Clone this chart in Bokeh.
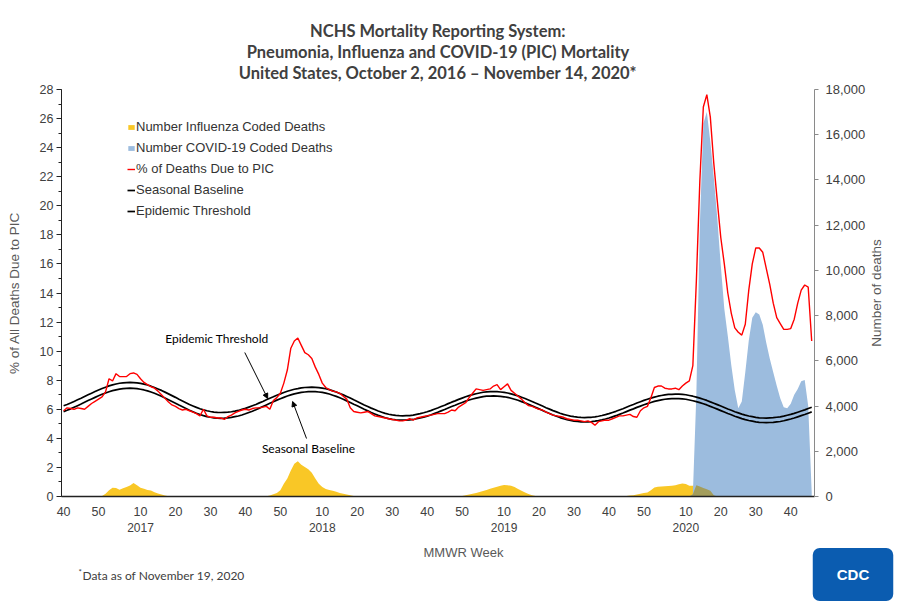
import numpy as np
from bokeh.plotting import figure
from bokeh.layouts import column, row
from bokeh.models import (Range1d, LinearAxis, FixedTicker, SingleIntervalTicker,
                          NumeralTickFormatter, Label, Arrow, NormalHead, Legend, LegendItem)
from bokeh.embed import file_html
from bokeh.resources import INLINE

# ---------------- data (weekly, MMWR week 40/2016 .. week 46/2020) ----------------
year_offset = {2016: -40, 2017: 12, 2018: 64, 2019: 116, 2020: 168}   # index = offset + week
n_weeks = 215

pic_pct = [
    5.9, 6.1, 6.05, 6.0, 6.1, 6.05, 6.0, 6.2, 6.4, 6.55,
    6.7, 6.85, 7.2, 8.1, 7.95, 8.45, 8.25, 8.25, 8.25, 8.45,
    8.5, 8.4, 8.1, 7.85, 7.7, 7.55, 7.45, 7.25, 7.0, 6.75,
    6.5, 6.3, 6.2, 6.05, 5.95, 6.0, 5.9, 5.8, 5.7, 5.55,
    6.0, 5.55, 5.45, 5.45, 5.4, 5.4, 5.3, 5.5, 5.6, 5.75,
    5.85, 5.95, 6.0, 5.95, 6.05, 6.1, 6.1, 6.15, 6.2, 6.0,
    6.6, 6.8, 7.1, 7.8, 8.7, 10.2, 10.7, 10.9, 10.4, 9.9,
    9.75, 9.5, 8.9, 8.4, 7.8, 7.5, 7.35, 7.25, 7.2, 7.1,
    6.9, 6.7, 6.1, 5.85, 5.8, 5.75, 5.8, 5.85, 5.7, 5.55,
    5.5, 5.45, 5.4, 5.35, 5.3, 5.25, 5.2, 5.2, 5.25, 5.35,
    5.25, 5.4, 5.45, 5.5, 5.55, 5.6, 5.65, 5.7, 5.7, 5.7,
    5.8, 5.95, 5.9, 6.15, 6.3, 6.45, 6.8, 7.1, 7.4, 7.35,
    7.3, 7.35, 7.4, 7.6, 7.7, 7.35, 7.55, 7.75, 7.3, 7.1,
    6.9, 6.7, 6.45, 6.25, 6.2, 6.1, 6.0, 5.95, 5.8, 5.7,
    5.6, 5.55, 5.5, 5.45, 5.35, 5.3, 5.25, 5.25, 5.2, 5.15,
    5.2, 5.1, 4.9, 5.15, 5.2, 5.25, 5.25, 5.35, 5.45, 5.55,
    5.55, 5.6, 5.65, 5.5, 5.45, 5.9, 6.1, 6.2, 6.8, 7.5,
    7.6, 7.6, 7.45, 7.4, 7.4, 7.45, 7.35, 7.6, 7.8, 7.95,
    9.0, 14.8, 21.7, 26.8, 27.65, 26.1, 22.9, 20.3, 17.8, 16.0,
    14.0, 12.6, 11.6, 11.3, 11.1, 11.85, 14.2, 16.0, 17.1, 17.1,
    16.8, 15.7, 14.6, 13.3, 12.3, 11.9, 11.5, 11.5, 11.55, 12.2,
    13.3, 14.2, 14.55, 14.4, 10.7,
]

seasonal_baseline = [
    5.84, 5.93, 6.03, 6.14, 6.25, 6.36, 6.48, 6.60, 6.71, 6.82, 6.93, 7.03, 7.12, 7.21, 7.28, 7.34, 7.39, 7.42, 7.44, 7.45,
    7.44, 7.42, 7.38, 7.33, 7.27, 7.19, 7.10, 7.00, 6.90, 6.78, 6.66, 6.54, 6.42, 6.29, 6.17, 6.05, 5.93, 5.83, 5.73, 5.64, 5.56, 5.50, 5.45, 5.41, 5.39, 5.38,
    5.39, 5.41, 5.44, 5.49, 5.54, 5.61, 5.69, 5.78, 5.87, 5.97, 6.08, 6.19, 6.30, 6.41, 6.52, 6.63, 6.73, 6.82, 6.91, 6.99, 7.06, 7.11, 7.16, 7.19, 7.21, 7.22,
    7.21, 7.19, 7.16, 7.11, 7.05, 6.97, 6.89, 6.79, 6.69, 6.58, 6.47, 6.35, 6.24, 6.12, 6.00, 5.89, 5.78, 5.68, 5.58, 5.50, 5.42, 5.36, 5.31, 5.28, 5.26, 5.25,
    5.26, 5.27, 5.30, 5.35, 5.40, 5.46, 5.53, 5.61, 5.70, 5.79, 5.89, 5.98, 6.09, 6.19, 6.28, 6.38, 6.47, 6.56, 6.64, 6.71, 6.77, 6.82, 6.87, 6.90, 6.91, 6.92,
    6.91, 6.89, 6.86, 6.82, 6.76, 6.69, 6.62, 6.53, 6.44, 6.34, 6.24, 6.13, 6.03, 5.92, 5.81, 5.71, 5.61, 5.52, 5.43, 5.35, 5.29, 5.23, 5.19, 5.16, 5.14, 5.13,
    5.14, 5.15, 5.18, 5.22, 5.27, 5.33, 5.40, 5.48, 5.56, 5.65, 5.74, 5.84, 5.94, 6.03, 6.13, 6.22, 6.31, 6.39, 6.47, 6.54, 6.60, 6.65, 6.69, 6.72, 6.73, 6.74,
    6.73, 6.72, 6.69, 6.64, 6.59, 6.53, 6.46, 6.38, 6.30, 6.20, 6.11, 6.01, 5.91, 5.81, 5.71, 5.62, 5.52, 5.44, 5.36, 5.29, 5.23, 5.18, 5.13, 5.10, 5.09, 5.08,
    5.09, 5.10, 5.13, 5.16, 5.21, 5.27, 5.33, 5.40, 5.48, 5.56, 5.64, 5.73, 5.82,
]

epidemic_threshold = [
    6.24, 6.33, 6.43, 6.54, 6.65, 6.76, 6.88, 7.00, 7.11, 7.22, 7.33, 7.43, 7.52, 7.61, 7.68, 7.74, 7.79, 7.82, 7.84, 7.85,
    7.84, 7.82, 7.78, 7.73, 7.67, 7.59, 7.50, 7.40, 7.30, 7.18, 7.06, 6.94, 6.82, 6.69, 6.57, 6.45, 6.33, 6.23, 6.13, 6.04, 5.96, 5.90, 5.85, 5.81, 5.79, 5.78,
    5.79, 5.80, 5.83, 5.87, 5.92, 5.99, 6.06, 6.15, 6.24, 6.33, 6.44, 6.54, 6.65, 6.76, 6.86, 6.97, 7.06, 7.15, 7.24, 7.31, 7.38, 7.42, 7.47, 7.50, 7.51, 7.52,
    7.51, 7.49, 7.46, 7.41, 7.35, 7.27, 7.19, 7.09, 6.99, 6.88, 6.77, 6.65, 6.54, 6.42, 6.30, 6.19, 6.08, 5.98, 5.88, 5.80, 5.72, 5.66, 5.61, 5.58, 5.56, 5.55,
    5.56, 5.57, 5.60, 5.65, 5.70, 5.76, 5.83, 5.91, 6.00, 6.09, 6.19, 6.28, 6.39, 6.49, 6.58, 6.68, 6.77, 6.86, 6.94, 7.01, 7.07, 7.12, 7.17, 7.20, 7.21, 7.22,
    7.21, 7.19, 7.16, 7.12, 7.06, 6.99, 6.92, 6.83, 6.74, 6.64, 6.54, 6.43, 6.33, 6.22, 6.11, 6.01, 5.91, 5.82, 5.73, 5.65, 5.59, 5.53, 5.49, 5.46, 5.44, 5.43,
    5.44, 5.45, 5.48, 5.52, 5.57, 5.63, 5.70, 5.78, 5.86, 5.95, 6.04, 6.14, 6.24, 6.33, 6.43, 6.52, 6.61, 6.69, 6.77, 6.84, 6.90, 6.95, 6.99, 7.02, 7.03, 7.04,
    7.04, 7.03, 7.00, 6.95, 6.90, 6.84, 6.77, 6.69, 6.61, 6.51, 6.42, 6.32, 6.22, 6.12, 6.02, 5.93, 5.83, 5.75, 5.67, 5.60, 5.54, 5.49, 5.44, 5.41, 5.40, 5.39,
    5.41, 5.42, 5.45, 5.48, 5.53, 5.59, 5.65, 5.72, 5.80, 5.88, 5.96, 6.05, 6.14,
]

# influenza coded deaths, per season: (first week index, weekly counts)
flu_2016_17 = (11, [20, 120, 280, 390, 380, 300, 360, 420, 490, 600, 500, 390, 340, 290, 260, 190, 130, 90, 40, 10])
flu_2017_18 = (58, [10, 40, 100, 160, 280, 560, 800, 1150, 1450, 1560, 1400, 1300, 1200, 1050, 800, 560, 420, 330,
                    290, 250, 210, 160, 120, 90, 60, 20])
flu_2018_19 = (113, [10, 20, 50, 90, 120, 160, 200, 240, 290, 340, 390, 430, 470, 510, 500, 470, 420, 330, 250, 180,
                     110, 50, 20])
flu_2019_20 = (160, [10, 20, 40, 60, 90, 120, 150, 180, 280, 400, 430, 440, 450, 460, 480, 500, 540, 580, 550, 480,
                     470, 500, 440, 380, 320, 250, 60])
# COVID-19 coded deaths starting at 2020 week 12
covid_2020 = (180, [100, 4500, 12000, 16500, 17000, 15700, 14100, 12300, 10200, 8300, 7100, 5800, 4700, 3900, 4200,
                    5500, 6900, 7900, 8150, 8050, 7600, 6800, 6100, 5500, 4900, 4350, 3950, 3900, 4100, 4500, 4750,
                    5100, 5150, 4000, 200])

tick_weeks = [(2016, 40), (2016, 50)] + [(y, w) for y in (2017, 2018, 2019) for w in (10, 20, 30, 40, 50)] + \
             [(2020, w) for w in (10, 20, 30, 40)]
year_labels = [2017, 2018, 2019, 2020]

# ---------------- build series ----------------
assert len(pic_pct) == n_weeks and len(seasonal_baseline) == n_weeks and len(epidemic_threshold) == n_weeks
x = np.arange(n_weeks)
flu = np.zeros(n_weeks)
for start, vals in (flu_2016_17, flu_2017_18, flu_2018_19, flu_2019_20):
    flu[start:start + len(vals)] = vals
covid = np.zeros(n_weeks)
covid[covid_2020[0]:covid_2020[0] + len(covid_2020[1])] = covid_2020[1]

# ---------------- main figure ----------------
W = 898
W_MAIN = 868
H_MAIN, H_FOOT = 541, 64
FL, FR, FT, FB = 61, 817, 89, 496          # frame edges in canvas pixels
XR = (-0.6, 214.8)
YR = (0, 28)

def dx(px):
    return XR[0] + (px - FL) / (FR - FL) * (XR[1] - XR[0])

def dy(py):
    return YR[0] + (FB - py) / (FB - FT) * (YR[1] - YR[0])

p = figure(width=W_MAIN, height=H_MAIN, x_range=Range1d(*XR), y_range=Range1d(*YR),
           output_backend="svg", toolbar_location=None,
           min_border_left=FL, min_border_right=W_MAIN - FR,
           min_border_top=FT, min_border_bottom=H_MAIN - FB)
p.extra_y_ranges = {"deaths": Range1d(0, 18000)}
p.outline_line_color = None
p.xgrid.visible = False
p.ygrid.visible = False
p.background_fill_color = "white"
p.border_fill_color = "white"

AX_FONT = "Liberation Sans"
TITLE_FONT = "Lato"
TICK_COLOR = "#404040"
LABEL_COLOR = "#595959"

# three-line title
p.title.text = ("NCHS Mortality Reporting System:\n"
                "Pneumonia, Influenza and COVID-19 (PIC) Mortality\n"
                "United States, October 2, 2016 \u2013 November 14, 2020*")
p.title.align = "center"
p.title.text_align = "center"
p.title.text_font = TITLE_FONT
p.title.text_font_style = "bold"
p.title.text_font_size = "16.5px"
p.title.text_color = "#404040"
p.title.text_line_height = 1.05
p.title.standoff = 14

# left axis
ya = p.yaxis[0]
ya.ticker = SingleIntervalTicker(interval=2, num_minor_ticks=2)
ya.axis_line_color = "#222222"
ya.major_tick_line_color = "#222222"
ya.minor_tick_line_color = "#222222"
ya.major_tick_in, ya.major_tick_out = 0, 5
ya.minor_tick_in, ya.minor_tick_out = 0, 3
ya.major_label_standoff = 3
ya.major_label_text_font = AX_FONT
ya.major_label_text_font_size = "12.5px"
ya.major_label_text_color = TICK_COLOR
ya.axis_label = "% of All Deaths Due to PIC"
ya.axis_label_text_font = AX_FONT
ya.axis_label_text_font_style = "normal"
ya.axis_label_text_font_size = "13.5px"
ya.axis_label_text_color = LABEL_COLOR
ya.axis_label_standoff = 15

# bottom axis (weeks)
tick_pos = [int(year_offset[y] + w) for y, w in tick_weeks]
xa = p.xaxis[0]
xa.ticker = FixedTicker(ticks=tick_pos)
xa.major_label_overrides = {tp: str(w) for tp, (y, w) in zip(tick_pos, tick_weeks)}
xa.axis_line_color = "#222222"
xa.axis_line_width = 1.5
xa.major_tick_line_color = None
xa.minor_tick_line_color = None
xa.major_tick_in, xa.major_tick_out = 0, 0
xa.major_label_standoff = 10
xa.major_label_text_font = AX_FONT
xa.major_label_text_font_size = "12.5px"
xa.major_label_text_color = TICK_COLOR

# bottom axis (years)
year_pos = [int(year_offset[y] + 10) for y in year_labels]
ya2 = LinearAxis(ticker=FixedTicker(ticks=year_pos),
                 major_label_overrides={tp: str(y) for tp, y in zip(year_pos, year_labels)},
                 axis_line_color=None, major_tick_line_color=None, minor_tick_line_color=None,
                 major_tick_in=0, major_tick_out=0, major_label_standoff=4,
                 major_label_text_font=AX_FONT, major_label_text_font_size="12px",
                 major_label_text_color=TICK_COLOR)
p.add_layout(ya2, "below")

# right axis (its title is drawn in the side strip so it reads bottom-to-top)
ra = LinearAxis(y_range_name="deaths", ticker=SingleIntervalTicker(interval=2000, num_minor_ticks=0),
                formatter=NumeralTickFormatter(format="0,0"),
                axis_line_color="#8a8a8a", major_tick_line_color="#8a8a8a", minor_tick_line_color=None,
                major_tick_in=0, major_tick_out=4, major_label_standoff=7,
                major_label_text_font=AX_FONT, major_label_text_font_size="13px",
                major_label_text_color=TICK_COLOR)
p.add_layout(ra, "right")

# ---------------- glyphs ----------------
YELLOW = "#F9C726"
BLUE = "#9CBCDE"
OLIVE = "#A39D5C"

r_flu = p.varea(x=x, y1=0, y2=flu, y_range_name="deaths", fill_color=YELLOW)
r_cov = p.varea(x=x, y1=0, y2=covid, y_range_name="deaths", fill_color=BLUE)
p.varea(x=x, y1=0, y2=np.minimum(flu, covid), y_range_name="deaths", fill_color=OLIVE)
r_base = p.line(x, seasonal_baseline, line_color="black", line_width=1.7)
r_thr = p.line(x, epidemic_threshold, line_color="black", line_width=1.7)
r_pic = p.line(x, pic_pct, line_color="#FF0000", line_width=1.4)

legend = Legend(items=[
    LegendItem(label="Number Influenza Coded Deaths", renderers=[r_flu]),
    LegendItem(label="Number COVID-19 Coded Deaths", renderers=[r_cov]),
    LegendItem(label="% of Deaths Due to PIC", renderers=[r_pic]),
    LegendItem(label="Seasonal Baseline", renderers=[r_base]),
    LegendItem(label="Epidemic Threshold", renderers=[r_thr]),
], location=(66, 275), orientation="vertical",
    glyph_width=8, glyph_height=6, label_standoff=1, label_height=21, spacing=0,
    padding=0, margin=0, border_line_color=None, background_fill_alpha=0,
    label_text_font=AX_FONT, label_text_font_size="13px", label_text_color="#333333")
p.add_layout(legend)

# ---------------- annotations ----------------
p.add_layout(Label(x=dx(217), y=dy(338), text="Epidemic Threshold", text_align="center",
                   text_baseline="middle", text_font=TITLE_FONT, text_font_size="12px", text_color="black"))
p.add_layout(Label(x=dx(309), y=dy(448), text="Seasonal Baseline", text_align="center",
                   text_baseline="middle", text_font=TITLE_FONT, text_font_size="12px", text_color="black"))
p.add_layout(Arrow(end=NormalHead(size=5, fill_color="black", line_color="black"),
                   x_start=dx(245), y_start=dy(352), x_end=dx(268), y_end=dy(398),
                   line_color="black", line_width=1))
p.add_layout(Arrow(end=NormalHead(size=5, fill_color="black", line_color="black"),
                   x_start=dx(307), y_start=dy(438), x_end=dx(293), y_end=dy(401),
                   line_color="black", line_width=1))

# ---------------- side and footer strips ----------------
def strip(width, height, xr, yr):
    s = figure(width=width, height=height, x_range=Range1d(*xr), y_range=Range1d(*yr),
               output_backend="svg", toolbar_location=None, min_border=0,
               x_axis_location=None, y_axis_location=None)
    s.outline_line_color = None
    s.xgrid.visible = False
    s.ygrid.visible = False
    s.background_fill_color = "white"
    s.border_fill_color = "white"
    return s

side = strip(W - W_MAIN, H_MAIN, (W_MAIN, W), (0, 28))
side.add_layout(Label(x=876, y=14, text="Number of deaths", angle=np.pi / 2,
                      text_align="center", text_baseline="middle", text_font=AX_FONT,
                      text_font_size="13.5px", text_color=LABEL_COLOR))

BADGE_X0 = 810
f = strip(BADGE_X0, H_FOOT, (0, BADGE_X0), (H_MAIN + H_FOOT, H_MAIN))
g = strip(W - BADGE_X0, H_FOOT, (BADGE_X0, W), (H_MAIN + H_FOOT, H_MAIN))

f.add_layout(Label(x=463, y=552, text="MMWR Week", text_align="center", text_baseline="middle",
                   text_font=AX_FONT, text_font_size="13px", text_color=LABEL_COLOR))
f.add_layout(Label(x=78, y=571, text="*", text_align="left", text_baseline="middle",
                   text_font=TITLE_FONT, text_font_size="8px", text_color="#404040"))
f.add_layout(Label(x=82, y=575, text="Data as of November 19, 2020", text_align="left",
                   text_baseline="middle", text_font=TITLE_FONT, text_font_size="12px", text_color="#404040"))
g.add_layout(Label(x=852.5, y=574, text="CDC", text_align="center", text_baseline="middle",
                   text_font=AX_FONT, text_font_style="bold", text_font_size="15px", text_color="white",
                   background_fill_color="#0B5CB0", border_radius=7, padding=(24, 18)))

layout = column(row(p, side, spacing=0), row(f, g, spacing=0), spacing=0)
open("out.html", "w").write(file_html(layout, INLINE))
